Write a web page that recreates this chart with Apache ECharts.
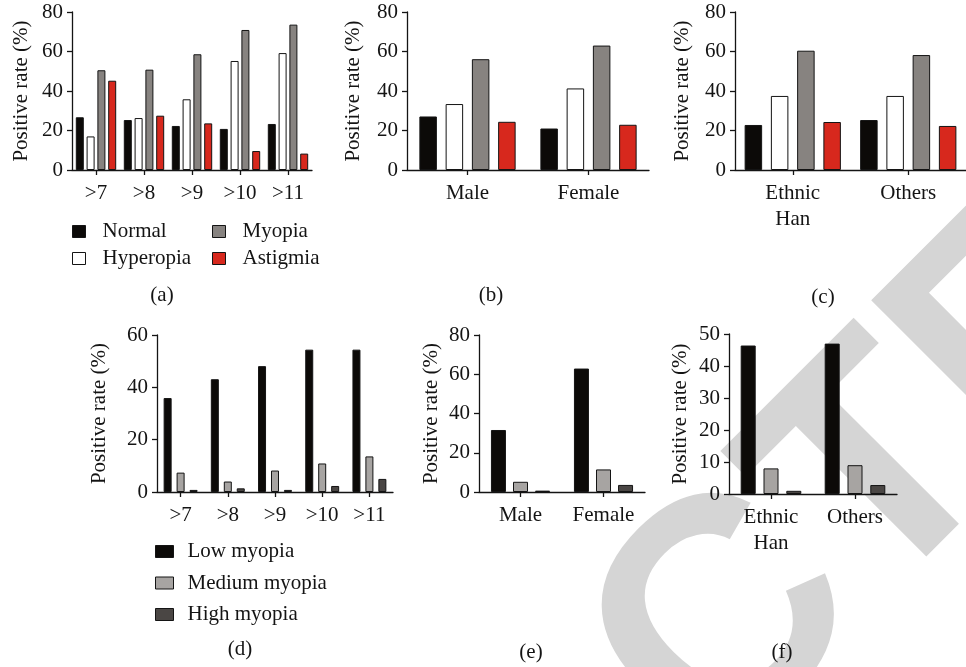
<!DOCTYPE html>
<html><head><meta charset="utf-8">
<script src="https://cdn.jsdelivr.net/npm/echarts@6/dist/echarts.min.js"></script>
<style>html,body{margin:0;padding:0;background:#fff}#c{width:966px;height:667px}</style>
</head><body><div id="c"></div>
<script>
// ---- categories ----
const ageCats = ['>7', '>8', '>9', '>10', '>11'];
const sexCats = ['Male', 'Female'];
const ethCats = ['Ethnic\nHan', 'Others'];
// ---- panel (a): by age ----
const aNormal = [26.7, 25.3, 22.3, 20.8, 23.3];
const aHyperopia = [17.0, 26.3, 35.8, 55.2, 59.2];
const aMyopia = [50.5, 50.8, 58.6, 70.9, 73.6];
const aAstigmia = [45.2, 27.5, 23.6, 9.6, 8.3];
// ---- panel (b): by sex ----
const bNormal = [27.1, 21.0];
const bHyperopia = [33.4, 41.3];
const bMyopia = [56.1, 63.0];
const bAstigmia = [24.4, 22.9];
// ---- panel (c): by ethnicity ----
const cNormal = [22.8, 25.3];
const cHyperopia = [37.5, 37.5];
const cMyopia = [60.4, 58.2];
const cAstigmia = [24.3, 22.3];
// ---- panel (d): myopia grade by age ----
const dLow = [35.9, 43.1, 48.1, 54.4, 54.4];
const dMedium = [7.4, 4.0, 8.2, 10.9, 13.6];
const dHigh = [0.8, 1.4, 0.8, 2.3, 5.0];
// ---- panel (e): myopia grade by sex ----
const eLow = [31.6, 62.9];
const eMedium = [5.2, 11.5];
const eHigh = [0.7, 3.6];
// ---- panel (f): myopia grade by ethnicity ----
const fLow = [46.4, 47.0];
const fMedium = [8.0, 9.0];
const fHigh = [1.0, 2.8];
// ---- y ticks ----
const yTicks80 = [0, 20, 40, 60, 80];
const yTicks60 = [0, 20, 40, 60];
const yTicks50 = [0, 10, 20, 30, 40, 50];
const yName = 'Positive rate (%)';
const panelLabels = ['(a)', '(b)', '(c)', '(d)', '(e)', '(f)'];
const legendA1 = ['Normal', 'Hyperopia'];
const legendA2 = ['Myopia', 'Astigmia'];
const legendD = ['Low myopia', 'Medium myopia', 'High myopia'];
const watermark = 'RETRACTED';

const FONT = '"Liberation Serif", "Times New Roman", serif';
const FS = 21;
const INK = '#141414';
const colors = {
  'Normal': '#0c0a08', 'Hyperopia': '#ffffff', 'Myopia': '#878380', 'Astigmia': '#d7281d',
  'Low myopia': '#0c0a08', 'Medium myopia': '#a7a4a2', 'High myopia': '#4a4644'
};

const grids = [
  {left: 72, top: 12, width: 240, height: 158},
  {left: 407, top: 12, width: 242, height: 158},
  {left: 735, top: 12, width: 242, height: 158},
  {left: 157, top: 335, width: 236, height: 157},
  {left: 479, top: 335, width: 166, height: 157},
  {left: 729, top: 334, width: 168, height: 160}
];
const panels = [
  {cats: ageCats, ticks: yTicks80, nameGap: 40, bw: 8, gap: '35%', series: [['Normal', aNormal], ['Hyperopia', aHyperopia], ['Myopia', aMyopia], ['Astigmia', aAstigmia]]},
  {cats: sexCats, ticks: yTicks80, nameGap: 43, bw: 17.5, gap: '50%', series: [['Normal', bNormal], ['Hyperopia', bHyperopia], ['Myopia', bMyopia], ['Astigmia', bAstigmia]]},
  {cats: ethCats, ticks: yTicks80, nameGap: 42, bw: 17.5, gap: '50%', series: [['Normal', cNormal], ['Hyperopia', cHyperopia], ['Myopia', cMyopia], ['Astigmia', cAstigmia]]},
  {cats: ageCats, ticks: yTicks60, nameGap: 47, bw: 8, gap: '62%', series: [['Low myopia', dLow], ['Medium myopia', dMedium], ['High myopia', dHigh]]},
  {cats: sexCats, ticks: yTicks80, nameGap: 37, bw: 15, gap: '47%', series: [['Low myopia', eLow], ['Medium myopia', eMedium], ['High myopia', eHigh]]},
  {cats: ethCats, ticks: yTicks50, nameGap: 38, bw: 15, gap: '52%', series: [['Low myopia', fLow], ['Medium myopia', fMedium], ['High myopia', fHigh]]}
];

const axisLine = {show: true, lineStyle: {color: INK, width: 1.3}};
const axisTick = {show: true, length: 5, lineStyle: {color: INK, width: 1.3}};
const xAxis = [], yAxis = [], series = [];
panels.forEach((p, i) => {
  xAxis.push({
    type: 'category', gridIndex: i, data: p.cats,
    axisLine, axisTick: Object.assign({alignWithLabel: true}, axisTick),
    axisLabel: {interval: 0, margin: 10, fontFamily: FONT, fontSize: FS, color: INK, lineHeight: 26}
  });
  const t = p.ticks;
  yAxis.push({
    type: 'value', gridIndex: i, min: t[0], max: t[t.length - 1], interval: t[1] - t[0],
    name: yName, nameLocation: 'middle', nameGap: p.nameGap, nameRotate: 90,
    nameTextStyle: {fontFamily: FONT, fontSize: FS, color: INK},
    axisLine, axisTick, splitLine: {show: false},
    axisLabel: {margin: 9, fontFamily: FONT, fontSize: FS, color: INK}
  });
  p.series.forEach(([name, data]) => {
    series.push({
      type: 'bar', name, data, xAxisIndex: i, yAxisIndex: i,
      barWidth: p.bw, barGap: p.gap,
      itemStyle: {color: colors[name], borderColor: INK, borderWidth: 1},
      emphasis: {disabled: true}, animation: false
    });
  });
});

const legendBase = {
  orient: 'vertical', selectedMode: false, icon: 'rect', padding: 0,
  itemStyle: {borderColor: INK, borderWidth: 1},
  textStyle: {fontFamily: FONT, fontSize: FS, color: INK, lineHeight: 20}
};
const legend = [
  Object.assign({}, legendBase, {data: legendA1, left: 72, top: 221, itemWidth: 13, itemHeight: 12, itemGap: 6,
    textStyle: Object.assign({}, legendBase.textStyle, {padding: [0, 0, 0, 12]})}),
  Object.assign({}, legendBase, {data: legendA2, left: 212, top: 221, itemWidth: 13, itemHeight: 12, itemGap: 6,
    textStyle: Object.assign({}, legendBase.textStyle, {padding: [0, 0, 0, 12]})}),
  Object.assign({}, legendBase, {data: legendD, left: 155, top: 541, itemWidth: 18, itemHeight: 12, itemGap: 10.5,
    textStyle: Object.assign({}, legendBase.textStyle, {padding: [0, 0, 0, 9]})})
];

const labelPos = [[162, 295], [491, 295], [823, 297], [240, 649], [531, 652], [782, 652]];
const graphic = [{
  type: 'text', x: 566, y: 792, rotation: Math.PI / 4, z: -10, silent: true,
  style: {text: watermark, font: 'bold 320px "Liberation Sans", Arial, sans-serif', fill: '#d5d5d5', align: 'center', verticalAlign: 'middle'}
}];
panelLabels.forEach((s, i) => graphic.push({
  type: 'text', x: labelPos[i][0], y: labelPos[i][1], silent: true,
  style: {text: s, font: FS + 'px ' + FONT, fill: INK, align: 'center', verticalAlign: 'middle'}
}));

const chart = echarts.init(document.getElementById('c'), null, {renderer: 'canvas'});
chart.setOption({
  animation: false, backgroundColor: '#ffffff',
  grid: grids.map(g => Object.assign({containLabel: false}, g)),
  xAxis, yAxis, series, legend, graphic
});
</script></body></html>
